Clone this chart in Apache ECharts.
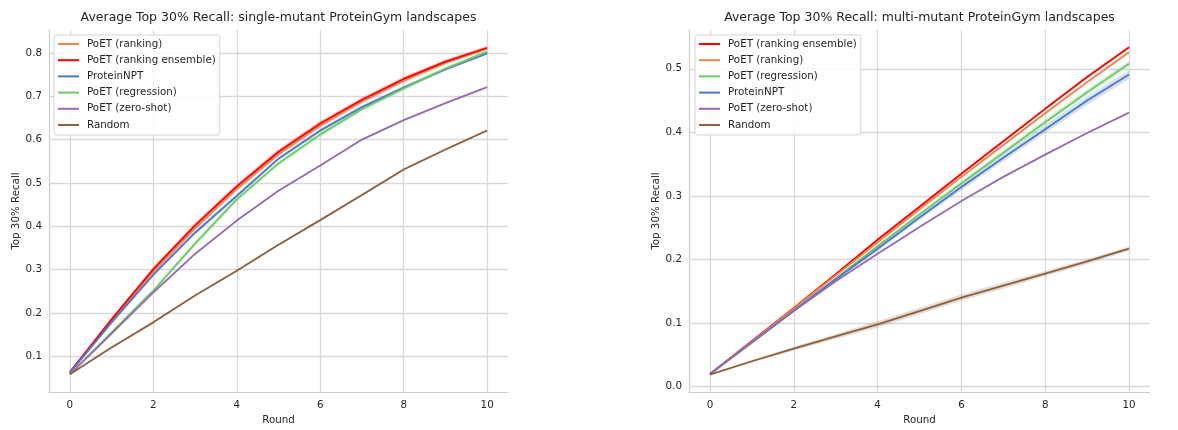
<!DOCTYPE html>
<html>
<head>
<meta charset="utf-8">
<script src="https://cdn.jsdelivr.net/npm/echarts@6/dist/echarts.min.js"></script>
<style>html,body{margin:0;padding:0;background:#fff}#c{width:1178px;height:430px}</style>
</head>
<body>
<div id="c"></div>
<script>
// ---------- data ----------
const rounds = [0, 1, 2, 3, 4, 5, 6, 7, 8, 9, 10];
const xTicks = [0, 2, 4, 6, 8, 10];
const yTicksLeft = [0.1, 0.2, 0.3, 0.4, 0.5, 0.6, 0.7, 0.8];
const yTicksRight = [0.0, 0.1, 0.2, 0.3, 0.4, 0.5];

const titleLeft = 'Average Top 30% Recall: single-mutant ProteinGym landscapes';
const titleRight = 'Average Top 30% Recall: multi-mutant ProteinGym landscapes';

// single-mutant (left)
const L_rank    = [0.062, 0.180, 0.295, 0.395, 0.486, 0.566, 0.632, 0.688, 0.736, 0.777, 0.810];
const L_rankEns = [0.063, 0.185, 0.301, 0.402, 0.492, 0.572, 0.637, 0.692, 0.740, 0.780, 0.812];
const L_npt     = [0.062, 0.178, 0.288, 0.385, 0.470, 0.556, 0.621, 0.675, 0.720, 0.762, 0.799];
const L_reg     = [0.058, 0.155, 0.251, 0.360, 0.462, 0.545, 0.612, 0.670, 0.718, 0.764, 0.803];
const L_zero    = [0.058, 0.152, 0.247, 0.336, 0.413, 0.482, 0.540, 0.600, 0.645, 0.684, 0.721];
const L_rand    = [0.058, 0.120, 0.178, 0.240, 0.297, 0.357, 0.414, 0.472, 0.531, 0.577, 0.621];
// band half-widths (left)
const L_rank_err    = [0.002, 0.004, 0.005, 0.005, 0.005, 0.005, 0.005, 0.005, 0.005, 0.004, 0.003];
const L_rankEns_err = [0.002, 0.004, 0.005, 0.006, 0.006, 0.006, 0.006, 0.006, 0.006, 0.005, 0.004];
const L_npt_err     = [0.002, 0.004, 0.005, 0.005, 0.005, 0.004, 0.004, 0.004, 0.004, 0.003, 0.003];
const L_reg_err     = [0.002, 0.004, 0.005, 0.006, 0.006, 0.006, 0.006, 0.005, 0.005, 0.004, 0.003];
const L_zero_err    = [0.001, 0.002, 0.002, 0.002, 0.002, 0.002, 0.002, 0.002, 0.002, 0.002, 0.002];
const L_rand_err    = [0.001, 0.002, 0.002, 0.002, 0.002, 0.002, 0.002, 0.003, 0.003, 0.003, 0.003];

// multi-mutant (right)
const R_rankEns = [0.020, 0.072, 0.124, 0.177, 0.231, 0.283, 0.335, 0.386, 0.437, 0.487, 0.534];
const R_rank    = [0.020, 0.071, 0.123, 0.175, 0.227, 0.279, 0.330, 0.380, 0.430, 0.479, 0.526];
const R_reg     = [0.020, 0.069, 0.119, 0.170, 0.221, 0.271, 0.320, 0.368, 0.416, 0.463, 0.508];
const R_npt     = [0.020, 0.070, 0.120, 0.169, 0.217, 0.266, 0.314, 0.360, 0.405, 0.450, 0.491];
const R_zero    = [0.020, 0.070, 0.119, 0.166, 0.209, 0.251, 0.292, 0.330, 0.365, 0.399, 0.431];
const R_rand    = [0.019, 0.040, 0.060, 0.079, 0.098, 0.119, 0.140, 0.159, 0.178, 0.197, 0.217];
// band half-widths (right)
const R_rankEns_err = [0.001, 0.001, 0.001, 0.001, 0.002, 0.002, 0.002, 0.002, 0.002, 0.002, 0.002];
const R_rank_err    = [0.001, 0.001, 0.001, 0.001, 0.002, 0.002, 0.002, 0.002, 0.002, 0.002, 0.002];
const R_reg_err     = [0.001, 0.001, 0.002, 0.002, 0.003, 0.003, 0.004, 0.004, 0.005, 0.005, 0.005];
const R_npt_err     = [0.001, 0.002, 0.002, 0.003, 0.004, 0.004, 0.005, 0.006, 0.006, 0.007, 0.007];
const R_zero_err    = [0.001, 0.001, 0.001, 0.001, 0.001, 0.001, 0.001, 0.001, 0.001, 0.001, 0.001];
const R_rand_err    = [0.001, 0.002, 0.003, 0.004, 0.005, 0.005, 0.005, 0.005, 0.004, 0.004, 0.003];

const names = {
  rank: 'PoET (ranking)',
  rankEns: 'PoET (ranking ensemble)',
  npt: 'ProteinNPT',
  reg: 'PoET (regression)',
  zero: 'PoET (zero-shot)',
  rand: 'Random'
};
const colors = {
  rank: '#ee854a',
  rankEns: '#ff0000',
  npt: '#4878d0',
  reg: '#6acc64',
  zero: '#956cb4',
  rand: '#8c613c'
};

const leftSeries = [
  ['rank', L_rank, L_rank_err],
  ['rankEns', L_rankEns, L_rankEns_err],
  ['npt', L_npt, L_npt_err],
  ['reg', L_reg, L_reg_err],
  ['zero', L_zero, L_zero_err],
  ['rand', L_rand, L_rand_err]
];
const rightSeries = [
  ['rankEns', R_rankEns, R_rankEns_err],
  ['rank', R_rank, R_rank_err],
  ['reg', R_reg, R_reg_err],
  ['npt', R_npt, R_npt_err],
  ['zero', R_zero, R_zero_err],
  ['rand', R_rand, R_rand_err]
];

// ---------- build ----------
const FONT = 'DejaVu Sans';
const TXT = '#262626';
const GRIDC = '#d9d9d9';
const FS = 10.3;

function bandSeries(key, vals, err, idx) {
  const rows = rounds.map((r, i) => [r, vals[i] - err[i], vals[i] + err[i]]);
  return {
    type: 'custom', xAxisIndex: idx, yAxisIndex: idx, silent: true, z: 2,
    data: rows,
    encode: { x: 0, y: [1, 2] },
    renderItem: function (params, api) {
      if (params.dataIndex !== 0) return null;
      const upper = rows.map(d => api.coord([d[0], d[2]]));
      const lower = rows.map(d => api.coord([d[0], d[1]])).reverse();
      return {
        type: 'polygon',
        shape: { points: upper.concat(lower) },
        style: { fill: colors[key], opacity: 0.22 }
      };
    }
  };
}

function buildSeries(list, idx) {
  const out = [];
  list.forEach(([key, vals, err]) => out.push(bandSeries(key, vals, err, idx)));
  list.forEach(([key, vals], k) => {
    out.push({
      name: names[key], type: 'line', xAxisIndex: idx, yAxisIndex: idx,
      data: rounds.map((r, i) => [r, vals[i]]),
      showSymbol: false, symbol: 'none',
      lineStyle: { color: colors[key], width: 1.8 },
      itemStyle: { color: colors[key] },
      z: 3 + k
    });
  });
  return out;
}

function xAxisOf(idx) {
  return {
    type: 'value', gridIndex: idx, min: -0.5, max: 10.5,
    name: 'Round', nameLocation: 'middle', nameGap: 22,
    nameTextStyle: { fontFamily: FONT, fontSize: FS, color: TXT },
    axisLine: { show: true, onZero: false, lineStyle: { color: '#cccccc', width: 1.2 } },
    axisTick: { show: false, customValues: xTicks },
    axisLabel: { customValues: xTicks, fontFamily: FONT, fontSize: FS, color: TXT, margin: 8 },
    splitLine: { show: true, lineStyle: { color: GRIDC, width: 1.3 } }
  };
}
function yAxisOf(idx, ticks, min, max) {
  return {
    type: 'value', gridIndex: idx, min: min, max: max,
    name: 'Top 30% Recall', nameLocation: 'middle', nameGap: 27,
    nameTextStyle: { fontFamily: FONT, fontSize: FS, color: TXT },
    axisLine: { show: true, onZero: false, lineStyle: { color: '#cccccc', width: 1.2 } },
    axisTick: { show: false, customValues: ticks },
    axisLabel: { customValues: ticks, formatter: v => (+v).toFixed(1), fontFamily: FONT, fontSize: FS, color: TXT, margin: 7 },
    splitLine: { show: true, lineStyle: { color: GRIDC, width: 1.3 } }
  };
}
function legendOf(list, left) {
  return {
    orient: 'vertical', left: left, top: 35,
    data: list.map(([key]) => names[key]),
    icon: 'rect', itemWidth: 21, itemHeight: 2, itemGap: 4.2,
    padding: [3, 4, 4, 4],
    backgroundColor: 'rgba(255,255,255,0.85)',
    borderColor: '#d4d4d4', borderWidth: 1, borderRadius: 3,
    textStyle: { fontFamily: FONT, fontSize: FS, color: TXT, lineHeight: 12, padding: [0, 0, 0, 3] },
    selectedMode: false
  };
}

const option = {
  animation: false,
  backgroundColor: '#ffffff',
  grid: [
    { left: 49, right: 670, top: 30, bottom: 34, containLabel: false },
    { left: 689, right: 28, top: 30, bottom: 34, containLabel: false }
  ],
  xAxis: [xAxisOf(0), xAxisOf(1)],
  yAxis: [yAxisOf(0, yTicksLeft, 0.017, 0.853), yAxisOf(1, yTicksRight, -0.0085, 0.561)],
  legend: [legendOf(leftSeries, 54), legendOf(rightSeries, 695)],
  graphic: [
    { type: 'text', x: 278.5, y: 18, z: 10, style: { text: titleLeft, font: '12.5px "DejaVu Sans"', fill: TXT, textAlign: 'center', textVerticalAlign: 'middle' } },
    { type: 'text', x: 919.5, y: 18, z: 10, style: { text: titleRight, font: '12.5px "DejaVu Sans"', fill: TXT, textAlign: 'center', textVerticalAlign: 'middle' } }
  ],
  series: buildSeries(leftSeries, 0).concat(buildSeries(rightSeries, 1))
};

const chart = echarts.init(document.getElementById('c'), null, { renderer: 'canvas' });
chart.setOption(option);
</script>
</body>
</html>
